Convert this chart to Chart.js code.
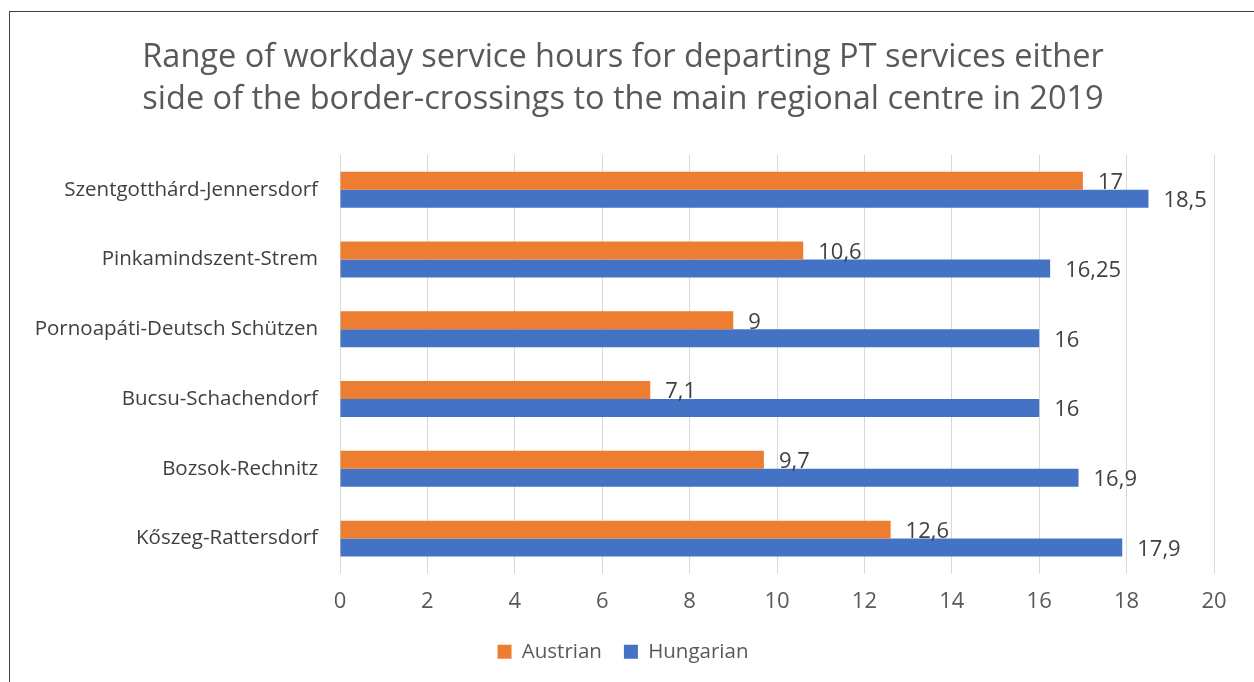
<!DOCTYPE html>
<html>
<head>
<meta charset="utf-8">
<script src="https://cdn.jsdelivr.net/npm/chart.js@4/dist/chart.umd.min.js"></script>
<style>
  html, body { margin: 0; padding: 0; background: #fff; }
  #wrap { position: relative; width: 1254px; height: 682px; overflow: hidden; }
  #frame { position: absolute; left: 9px; top: 11px; width: 1260px; height: 700px; border: 1.5px solid #404040; box-sizing: border-box; }
  canvas { position: absolute; left: 0; top: 0; }
</style>
</head>
<body>
<div id="wrap">
  <div id="frame"></div>
  <canvas id="chart" width="1254" height="682"></canvas>
</div>
<script>
// data
const crossings = ['Szentgotthárd-Jennersdorf', 'Pinkamindszent-Strem', 'Pornoapáti-Deutsch Schützen',
  'Bucsu-Schachendorf', 'Bozsok-Rechnitz', 'Kőszeg-Rattersdorf'];
const austrian = [17, 10.6, 9, 7.1, 9.7, 12.6];
const hungarian = [18.5, 16.25, 16, 16, 16.9, 17.9];
const titleLines = ['Range of workday service hours for departing PT services either',
  'side of the border-crossings to the main regional centre in 2019'];

const fontFam = '"Open Sans", Lato, sans-serif';

// simple value labels next to the bar ends
const barLabels = {
  id: 'barLabels',
  afterDatasetsDraw(chart) {
    const ctx = chart.ctx;
    ctx.save();
    ctx.font = '22px ' + fontFam;
    ctx.fillStyle = '#404040';
    ctx.textBaseline = 'middle';
    ctx.textAlign = 'left';
    chart.data.datasets.forEach((ds, i) => {
      chart.getDatasetMeta(i).data.forEach((bar, j) => {
        const txt = String(ds.data[j]).replace('.', ',');
        ctx.fillText(txt, bar.x + 15, bar.y + 2);
      });
    });
    ctx.restore();
  }
};

const ctx = document.getElementById('chart').getContext('2d');
new Chart(ctx, {
  type: 'bar',
  data: {
    labels: crossings,
    datasets: [{
      label: 'Austrian',
      data: austrian,
      backgroundColor: '#ED7D31',
      categoryPercentage: 0.515,
      barPercentage: 1
    }, {
      label: 'Hungarian',
      data: hungarian,
      backgroundColor: '#4472C4',
      categoryPercentage: 0.515,
      barPercentage: 1
    }]
  },
  options: {
    indexAxis: 'y',
    responsive: false,
    animation: false,
    // left padding nudges title and legend towards the original centre
    layout: { padding: { left: 32, right: 40, top: 0, bottom: 10 } },
    scales: {
      x: {
        min: 0,
        max: 20,
        ticks: { stepSize: 2, color: '#595959', font: { family: fontFam, size: 22 }, padding: 15 },
        grid: { color: '#D9D9D9', drawTicks: false },
        border: { display: false },
        afterFit(scale) { scale.height = 46; }
      },
      y: {
        ticks: { color: '#404040', font: { family: fontFam, size: 20.5 }, padding: 22 },
        grid: { display: false, drawTicks: false },
        border: { display: false },
        afterFit(scale) { scale.width = 308; }
      }
    },
    plugins: {
      title: {
        display: true,
        text: titleLines,
        color: '#595959',
        font: { family: fontFam, size: 32.5, weight: 'normal', lineHeight: 1.29 },
        padding: { top: 37, bottom: 34 }
      },
      legend: {
        position: 'bottom',
        labels: {
          color: '#595959',
          font: { family: fontFam, size: 20.5 },
          boxWidth: 14,
          boxHeight: 14,
          padding: 22
        }
      },
      tooltip: { enabled: false }
    }
  },
  plugins: [barLabels]
});
</script>
</body>
</html>
